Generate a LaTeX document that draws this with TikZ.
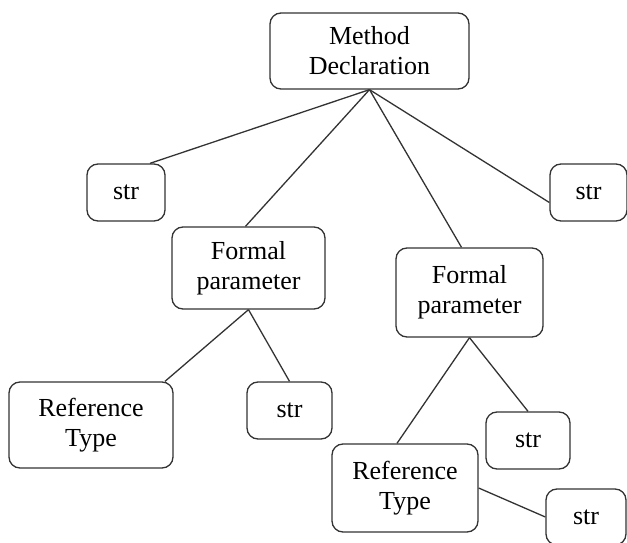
\documentclass[tikz,border=0pt]{standalone}
\usepackage{fontspec}
\setmainfont{Liberation Serif}
\begin{document}
\begin{tikzpicture}[x=1pt,y=-1pt,
  box/.style={draw=black!80, line width=1.3pt, rounded corners=11pt, align=center,
    inner sep=0pt, font=\fontsize{26}{30}\selectfont},
  edge/.style={draw=black!80, line width=1.3pt}]
\useasboundingbox (0,0) rectangle (627,543);
\node[box, minimum width=199pt, minimum height=76pt] (md) at (369.5,51) {Method\\Declaration};
\node[box, minimum width=78pt, minimum height=57pt] (sl) at (126,192.5) {str};
\node[box, minimum width=77pt, minimum height=57pt] (sr) at (588.5,192.5) {str};
\node[box, minimum width=153pt, minimum height=82pt] (fpl) at (248.5,268) {Formal\\parameter};
\node[box, minimum width=147pt, minimum height=89pt] (fpr) at (469.5,292.5) {Formal\\parameter};
\node[box, minimum width=164pt, minimum height=86pt] (rtl) at (91,425) {Reference\\Type};
\node[box, minimum width=85pt, minimum height=57pt] (sm) at (289.5,410.5) {str};
\node[box, minimum width=146pt, minimum height=88pt] (rtr) at (405,488) {Reference\\Type};
\node[box, minimum width=84pt, minimum height=57pt] (srm) at (528,440.5) {str};
\node[box, minimum width=80pt, minimum height=56pt] (sbr) at (586,517) {str};
\draw[edge] (md.south) -- ([xshift=24pt]sl.north);
\draw[edge] (md.south) -- ([xshift=-3pt]fpl.north);
\draw[edge] (md.south) -- ([xshift=-8pt]fpr.north);
\draw[edge] (md.south) -- ([yshift=-10pt]sr.west);
\draw[edge] (fpl.south) -- ([xshift=74pt]rtl.north);
\draw[edge] (fpl.south) -- (sm.north);
\draw[edge] (fpr.south) -- ([xshift=-8pt]rtr.north);
\draw[edge] (fpr.south) -- (srm.north);
\draw[edge] (rtr.east) -- (sbr.west);
\end{tikzpicture}
\end{document}
